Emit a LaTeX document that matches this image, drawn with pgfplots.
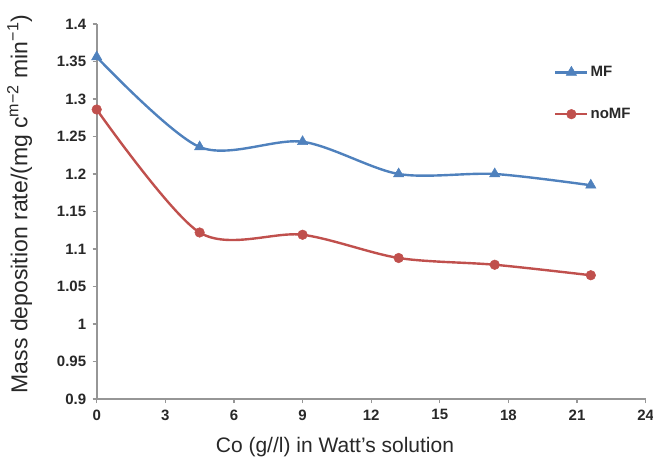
\documentclass[border=0pt]{standalone}
\usepackage{fontspec}
\setmainfont{Liberation Sans}
\usepackage{pgfplots}
\pgfplotsset{compat=1.18}

\definecolor{mfblue}{RGB}{79,129,189}
\definecolor{nored}{RGB}{192,80,77}
\definecolor{axgray}{RGB}{150,150,150}
\definecolor{txt}{RGB}{40,40,40}

\begin{document}
\begin{tikzpicture}
\begin{axis}[
  scale only axis,
  width=549pt, height=375pt,
  xmin=0, xmax=24, ymin=0.9, ymax=1.4,
  axis lines*=left,
  axis line style={axgray, line width=1.8pt},
  tick style={axgray, line width=1.2pt},
  tick align=outside,
  major tick length=4pt,
  xtick={0,3,6,9,12,15,18,21,24},
  ytick={0.9,0.95,1,1.05,1.1,1.15,1.2,1.25,1.3,1.35,1.4},
  yticklabels={0.9,0.95,1,1.05,1.1,1.15,1.2,1.25,1.3,1.35,1.4},
  /pgf/number format/assume math mode=true,
  tick label style={font=\bfseries\fontsize{15}{17}\selectfont, text=txt},
  xticklabel style={yshift=-3pt},
  yticklabel style={xshift=-3pt},
  label style={font=\fontsize{21}{24}\selectfont, text=txt},
  xlabel={Co (g//l) in Watt’s solution},
  ylabel={Mass deposition rate/(mg c\textsuperscript{m−2} min\textsuperscript{−1})},
  xlabel style={at={(axis description cs:0.434,-0.128)}, anchor=center},
  ylabel style={at={(axis description cs:-0.1403,0.52)}, anchor=center,
    font=\fontsize{23}{26}\selectfont},
  legend style={draw=none, fill=none, at={(axis description cs:0.8275,0.898)},
    anchor=north west, row sep=26pt, font=\bfseries\fontsize{15}{17}\selectfont,
    text=txt},
  legend cell align=left,
  legend image code/.code={\draw[mark repeat=2,mark phase=2,#1] plot coordinates {(0pt,0pt) (16pt,0pt) (32pt,0pt)};},
  clip=false
]
\addplot[mfblue, line width=2.4pt, smooth, tension=0.5, mark=triangle*, mark size=6pt,
  mark options={solid, fill=mfblue, draw=mfblue, line width=0.5pt}]
  coordinates {(0,1.356) (4.5,1.236) (9,1.243) (13.2,1.200) (17.4,1.200) (21.6,1.185)};
\addlegendentry{MF}
\addplot[nored, line width=2.4pt, smooth, tension=0.5, mark=*, mark size=4.8pt,
  mark options={solid, fill=nored, draw=nored, line width=0.5pt}]
  coordinates {(0,1.286) (4.5,1.122) (9,1.119) (13.2,1.088) (17.4,1.079) (21.6,1.065)};
\addlegendentry{noMF}
\coordinate (sw) at (rel axis cs:0,0);
\coordinate (ne) at (rel axis cs:1,1);
\end{axis}
\pgfresetboundingbox
\path[use as bounding box] ([shift={(-96.7pt,-67pt)}]sw) rectangle ([shift={(7.3pt,24pt)}]ne);
\end{tikzpicture}
\end{document}
